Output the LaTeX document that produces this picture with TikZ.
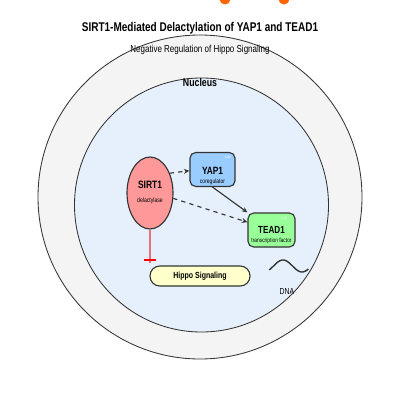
\documentclass[tikz,border=0pt]{standalone}
\usepackage{fontspec}
\setmainfont[FakeStretch=0.79]{Liberation Sans}
\usetikzlibrary{shapes.geometric,arrows.meta,calc}
\definecolor{cellfill}{HTML}{F4F4F4}
\definecolor{nucfill}{HTML}{E6F0FC}
\definecolor{sirtfill}{HTML}{FF9999}
\definecolor{yapfill}{HTML}{99CCFF}
\definecolor{teadfill}{HTML}{99FF99}
\definecolor{hippofill}{HTML}{FFFFCC}
\definecolor{edge}{HTML}{333333}
\definecolor{dot}{HTML}{FF6600}
\definecolor{inhib}{HTML}{F07070}
\tikzset{
  prot/.style={draw=edge, line width=0.8pt, rounded corners=4pt, minimum width=45\unitlength, minimum height=34\unitlength, inner sep=0pt},
  pname/.style={inner sep=0pt, font=\fontsize{7.5}{9}\selectfont\bfseries},
  prole/.style={inner sep=0pt, font=\fontsize{4.5}{5.5}\selectfont},
  lac/.style={text=white, inner sep=0pt, font=\fontsize{3}{3}\selectfont},
  link/.style={draw=edge, line width=0.8pt, -{Stealth[length=4pt,width=3.5pt]}}
}
\begin{document}
\setlength{\unitlength}{0.025cm}
\begin{tikzpicture}[x=0.025cm, y=-0.025cm]
      \useasboundingbox (0,0) rectangle (400,400);
      \foreach \x in {225, 284}{
        \fill[dot](\x,-1)circle(5.5);
      }
      \draw[edge, fill=cellfill, line width=0.6pt](200,197)circle(162);
      \draw[edge, fill=nucfill, line width=0.6pt](201.5,205)circle(127);
      \node(title) at(200,28) {\fontsize{9}{10}\selectfont\bfseries SIRT1-Mediated Delactylation of YAP1 and TEAD1};
      \node(sub) at(200,50) {\fontsize{7.2}{8}\selectfont Negative Regulation of Hippo Signaling};
      \node(nuc) at(200,83) {\fontsize{7.9}{9}\selectfont\bfseries Nucleus};
      \node[ellipse, draw=edge, line width=0.8pt, fill=sirtfill, minimum width=46\unitlength, minimum height=72\unitlength, inner sep=0pt](sirt) at(150,193) {};
      \node[pname, font=\fontsize{7.6}{9}\selectfont\bfseries](sirtname) at(150,185) {SIRT1};
      \node[prole, font=\fontsize{4.6}{5.5}\selectfont](sirtrole) at(150,201) {delactylase};
      \node[prot, fill=yapfill](yap) at(212.5,169.5) {};
      \node[pname](yapname) at(212.5,170.5) {YAP1};
      \node[prole](yaprole) at(212.5,181.5) {coregulator};
      \node[lac](yaplac) at(228,157.5) {Lac};
      \node[prot, fill=teadfill, minimum width=47\unitlength](tead) at(271.5,230) {};
      \node[pname, font=\fontsize{7.3}{9}\selectfont\bfseries](teadname) at(271.5,229.5) {TEAD1};
      \node[prole, font=\fontsize{4.4}{5.5}\selectfont](tearole) at(271.5,240.5) {transcription factor};
      \node[lac](teadlac) at(284,218) {Lac};
      \node[draw=edge, line width=0.8pt, fill=hippofill, rounded corners=7pt, minimum width=100\unitlength, minimum height=20\unitlength](hippo) at(200,276) {\fontsize{6.3}{7}\selectfont\bfseries Hippo Signaling};
      \draw[link, dashed](sirt.45)--(yap.183);
      \draw[link, dashed](sirt.-13)--(tead.162);
      \draw[link](yap.south)--(tead.north west);
      \coordinate(stop) at(150,263);
      \draw[inhib, line width=1pt](sirt.south)--(stop);
      \draw[red, line width=1.6pt]($(stop)+(-6,-3)$)--($(stop)+(6,-3)$);
      \draw[edge, line width=1pt, domain=-40:330, samples=50] plot({283+(\x-90)*19/180}, {266-6*sin(\x)});
      \node(dna) at(287,291) {\fontsize{6.2}{7}\selectfont DNA};
\end{tikzpicture}
\end{document}
